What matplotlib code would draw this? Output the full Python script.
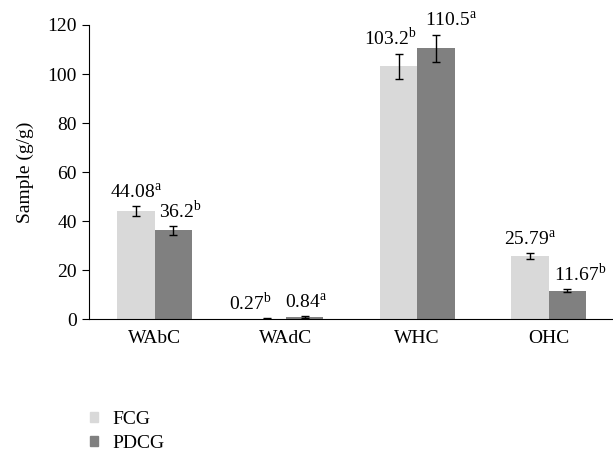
import numpy as np
import matplotlib
matplotlib.use('Agg')
from matplotlib import pyplot as plt
from matplotlib.patches import Patch

plt.rcParams['font.family'] = ['Liberation Serif', 'DejaVu Serif']
plt.rcParams['mathtext.fontset'] = 'custom'
plt.rcParams['mathtext.rm'] = 'Liberation Serif'

categories = ['WAbC', 'WAdC', 'WHC', 'OHC']
fcg = [44.08, 0.27, 103.2, 25.79]
pdcg = [36.2, 0.84, 110.5, 11.67]
fcg_err = [2.0, 0.2, 5.1, 1.2]
pdcg_err = [1.8, 0.3, 5.5, 0.5]
fcg_sig = ['a', 'b', 'b', 'a']
pdcg_sig = ['b', 'a', 'a', 'b']

# horizontal nudges of the value labels (points), as placed in the original
fcg_nudge = [0, -12, -6, 0]
pdcg_nudge = [5, 1, 11, 9]

fig = plt.figure(figsize=(6.13, 4.54), dpi=100)
ax = fig.add_axes([0.145, 0.297, 0.857, 0.648])

x = np.arange(len(categories))
w = 0.285
ax.bar(x - w / 2, fcg, w, color='#d9d9d9', yerr=fcg_err, capsize=3,
       error_kw=dict(elinewidth=1, capthick=1, ecolor='black'))
ax.bar(x + w / 2, pdcg, w, color='#808080', yerr=pdcg_err, capsize=3,
       error_kw=dict(elinewidth=1, capthick=1, ecolor='black'))

for xs, vals, errs, sig, nudge in [(x - w / 2, fcg, fcg_err, fcg_sig, fcg_nudge),
                                   (x + w / 2, pdcg, pdcg_err, pdcg_sig, pdcg_nudge)]:
    for xi, v, e, s, n in zip(xs, vals, errs, sig, nudge):
        ax.annotate('%g$^{\\mathrm{%s}}$' % (v, s), (xi, v + e), xytext=(n, 3),
                    textcoords='offset points', ha='center', va='bottom', fontsize=14)

ax.set_xlim(-0.5, 3.5)
ax.set_ylim(0, 120)
ax.set_yticks(range(0, 121, 20))
ax.set_xticks(x)
ax.set_xticklabels(categories, fontsize=14)
ax.tick_params(axis='x', length=0, pad=8)
ax.tick_params(axis='y', labelsize=14, length=5, direction='out')
ax.set_ylabel('Sample (g/g)', fontsize=14, labelpad=10)
ax.spines['top'].set_visible(False)
ax.spines['right'].set_visible(False)

handles = [Patch(color='#d9d9d9', label='FCG'), Patch(color='#808080', label='PDCG')]
fig.legend(handles=handles, loc='upper left', bbox_to_anchor=(0.147, 0.094),
           frameon=False, fontsize=14, handlelength=0.42, handleheight=0.42,
           handletextpad=0.75, labelspacing=0.32, borderpad=0, borderaxespad=0)

plt.savefig('out.png', dpi=100)
